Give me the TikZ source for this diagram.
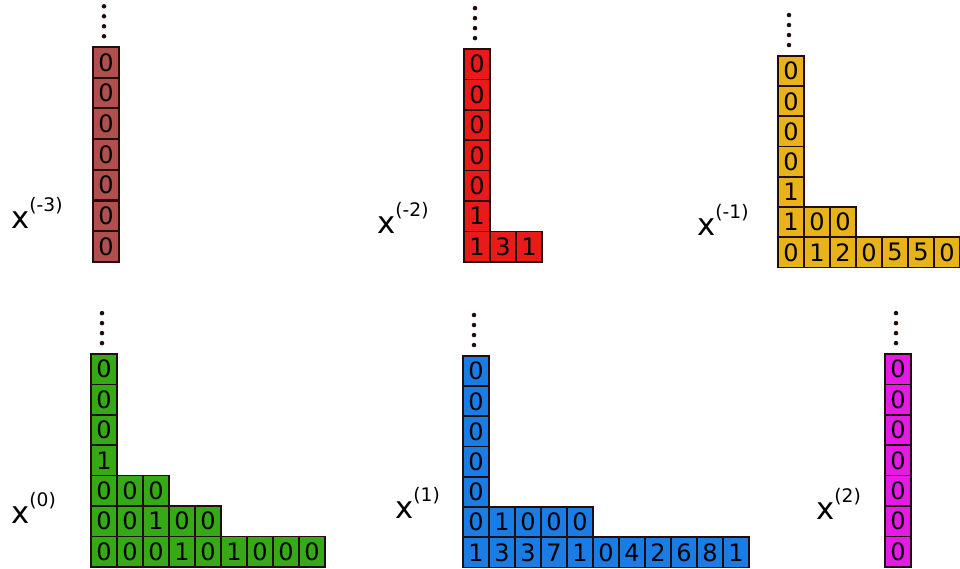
\documentclass[tikz,border=0pt]{standalone}
\usepackage{fontspec}
\setmainfont{DejaVu Sans}
\usetikzlibrary{calc}
\definecolor{cellline}{RGB}{35,12,12}
\definecolor{cbrown}{RGB}{176,80,78}
\definecolor{cred}{RGB}{232,26,26}
\definecolor{cyellow}{RGB}{232,179,26}
\definecolor{cgreen}{RGB}{54,170,22}
\definecolor{cblue}{RGB}{26,125,230}
\definecolor{cmagenta}{RGB}{230,26,230}

\begin{document}
\begin{tikzpicture}[
  x=0.75pt,y=-0.75pt,
  cell/.style={draw=cellline,line width=1.3pt,minimum width=19.5pt,
               minimum height=22.8pt,inner sep=0pt,
               font=\fontsize{18}{18}\selectfont},
  lab/.style={anchor=base west,inner sep=0pt,
              font=\fontsize{23}{23}\selectfont}
]
\useasboundingbox (0,0) rectangle (960,568);

% x^(-3)
\begin{scope}[shift={(93,47)}]
  \foreach \vals [count=\r] in {{0},{0},{0},{0},{0},{0},{0}}{
    \foreach \v [count=\c] in \vals
      \node[cell,fill=cbrown] (a-\r-\c) at ({(\c-0.5)*26},{(\r-0.5)*30.7}) {\v};
  }
\end{scope}
\node[lab] (la) at (11,228) {x\raisebox{12.75pt}{\fontsize{14}{14}\selectfont(-3)}};

% x^(-2)
\begin{scope}[shift={(464,49)}]
  \foreach \vals [count=\r] in {{0},{0},{0},{0},{0},{1},{1,3,1}}{
    \foreach \v [count=\c] in \vals
      \node[cell,fill=cred] (b-\r-\c) at ({(\c-0.5)*26},{(\r-0.5)*30.4}) {\v};
  }
\end{scope}
\node[lab] (lb) at (377,233) {x\raisebox{12.75pt}{\fontsize{14}{14}\selectfont(-2)}};

% x^(-1)
\begin{scope}[shift={(778,56)}]
  \foreach \vals [count=\r] in {{0},{0},{0},{0},{1},{1,0,0},{0,1,2,0,5,5,0}}{
    \foreach \v [count=\c] in \vals
      \node[cell,fill=cyellow] (c-\r-\c) at ({(\c-0.5)*26},{(\r-0.5)*30.2}) {\v};
  }
\end{scope}
\node[lab] (lc) at (697,235) {x\raisebox{12.75pt}{\fontsize{14}{14}\selectfont(-1)}};

% x^(0)
\begin{scope}[shift={(91,354)}]
  \foreach \vals [count=\r] in {{0},{0},{0},{1},{0,0,0},{0,0,1,0,0},{0,0,0,1,0,1,0,0,0}}{
    \foreach \v [count=\c] in \vals
      \node[cell,fill=cgreen] (d-\r-\c) at ({(\c-0.5)*26},{(\r-0.5)*30.4}) {\v};
  }
\end{scope}
\node[lab] (ld) at (11,523) {x\raisebox{12.75pt}{\fontsize{14}{14}\selectfont(0)}};

% x^(1)
\begin{scope}[shift={(463,356)}]
  \foreach \vals [count=\r] in {{0},{0},{0},{0},{0},{0,1,0,0,0},{1,3,3,7,1,0,4,2,6,8,1}}{
    \foreach \v [count=\c] in \vals
      \node[cell,fill=cblue] (e-\r-\c) at ({(\c-0.5)*26},{(\r-0.5)*30.2}) {\v};
  }
\end{scope}
\node[lab] (le) at (395,518) {x\raisebox{12.75pt}{\fontsize{14}{14}\selectfont(1)}};

% x^(2)
\begin{scope}[shift={(885,354)}]
  \foreach \vals [count=\r] in {{0},{0},{0},{0},{0},{0},{0}}{
    \foreach \v [count=\c] in \vals
      \node[cell,fill=cmagenta] (f-\r-\c) at ({(\c-0.5)*26},{(\r-0.5)*30.4}) {\v};
  }
\end{scope}
\node[lab] (lf) at (816,519) {x\raisebox{12.75pt}{\fontsize{14}{14}\selectfont(2)}};

% dots above each column
\foreach \g in {a,b,c,d,e,f}
  \foreach \k in {1,...,4}
    \fill[cellline] ($(\g-1-1.north)+(-2,{-10*\k})$) circle (1.7pt);
\end{tikzpicture}
\end{document}
